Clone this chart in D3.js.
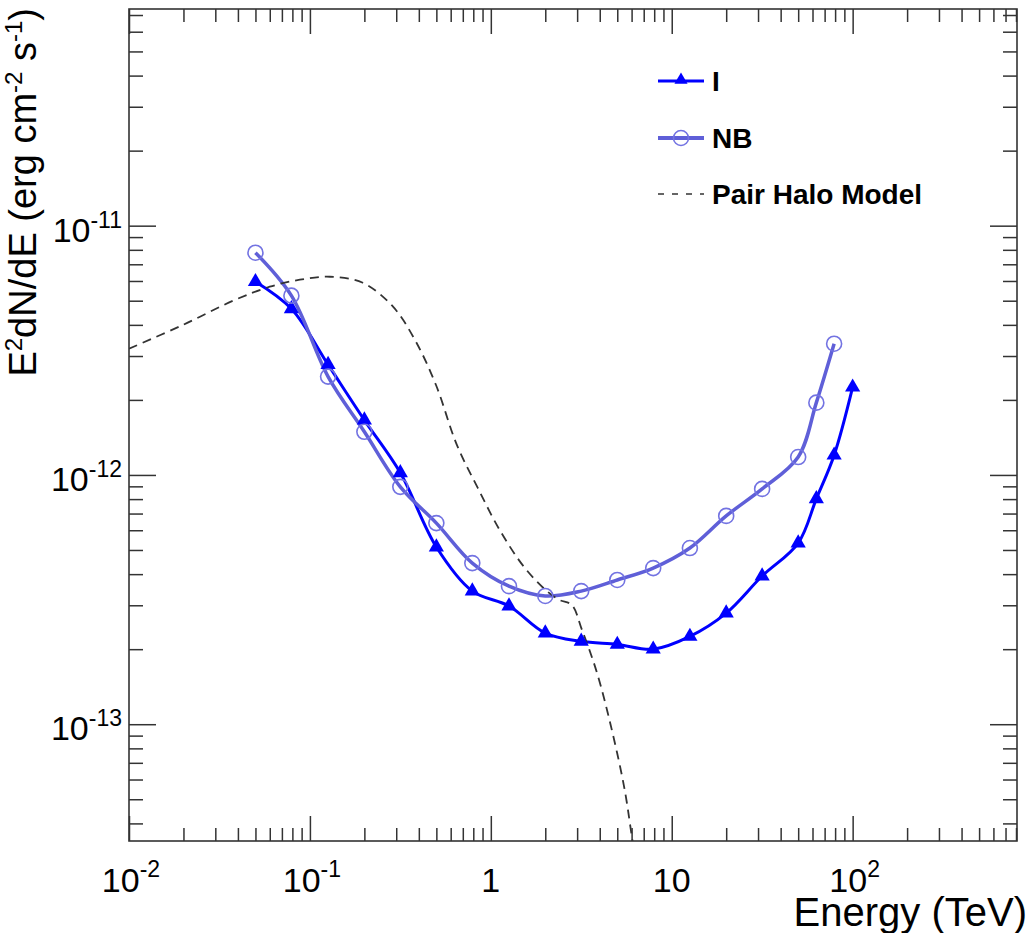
<!DOCTYPE html>
<html>
<head>
<meta charset="utf-8">
<script src="https://cdn.jsdelivr.net/npm/d3@7"></script>
<style>
  body { margin: 0; background: #fff; }
  text { font-family: "Liberation Sans", Arial, Helvetica, sans-serif; fill: #000; }
</style>
</head>
<body>
<div id="chart"></div>
<script>
// energies (TeV) and E^2 dN/dE values (erg cm^-2 s^-1)
var energyI = [0.05, 0.079, 0.126, 0.2, 0.316, 0.5, 0.79, 1.26, 2, 3.16, 5, 7.9, 12.6, 20, 31.6, 50, 63, 79, 100];
var fluxI = [5.96e-12, 4.64e-12, 2.77e-12, 1.66e-12, 1.02e-12, 5.14e-13, 3.42e-13, 2.98e-13, 2.32e-13, 2.15e-13,
             2.09e-13, 2.0e-13, 2.25e-13, 2.79e-13, 3.93e-13, 5.33e-13, 8.02e-13, 1.20e-12, 2.25e-12];

var energyNB = [0.05, 0.079, 0.126, 0.2, 0.316, 0.5, 0.79, 1.26, 2, 3.16, 5, 7.9, 12.6, 20, 31.6, 50, 63, 79];
var fluxNB = [7.79e-12, 5.24e-12, 2.48e-12, 1.49e-12, 8.96e-13, 6.41e-13, 4.43e-13, 3.58e-13, 3.27e-13, 3.42e-13,
              3.79e-13, 4.23e-13, 5.09e-13, 6.85e-13, 8.79e-13, 1.18e-12, 1.95e-12, 3.36e-12];

var energyHalo = [0.01, 0.0199, 0.0386, 0.060, 0.088, 0.129, 0.196, 0.288, 0.380, 0.497, 0.649, 0.847, 1.12,
                  1.54, 2.07, 2.40, 2.80, 3.19, 3.85, 4.67, 5.50, 6.09, 6.5];
var fluxHalo = [3.21e-12, 4.00e-12, 5.04e-12, 5.69e-12, 6.07e-12, 6.24e-12, 5.90e-12, 4.73e-12, 3.49e-12, 2.30e-12,
                1.32e-12, 8.87e-13, 6.01e-13, 4.24e-13, 3.39e-13, 3.15e-13, 3.01e-13, 2.39e-13, 1.62e-13, 9.46e-14,
                5.43e-14, 3.36e-14, 2.6e-14];

var xMajor = [0.01, 0.1, 1, 10, 100];
var xTickBase = ["10", "10", "1", "10", "10"];
var xTickExp = ["-2", "-1", "", "", "2"];
var yMajor = [1e-13, 1e-12, 1e-11];
var yTickBase = ["10", "10", "10"];
var yTickExp = ["-13", "-12", "-11"];

var legendNames = ["I", "NB", "Pair Halo Model"];

var svgWidth = 1031;
var svgHeight = 933;

var plot = { left: 129, right: 1017, top: 9, bottom: 841 };

var svg = d3.select("#chart")
  .append("svg")
  .attr("width", svgWidth)
  .attr("height", svgHeight);

var xScale = d3.scaleLog().domain([0.01, 810]).range([plot.left, plot.right]);
var yScale = d3.scaleLog().domain([3.4e-14, 7.4e-11]).range([plot.bottom, plot.top]);

function minorTicks(scale) {
  var dom = scale.domain();
  var out = [];
  var d0 = Math.floor(Math.log10(dom[0])), d1 = Math.ceil(Math.log10(dom[1]));
  for (var d = d0; d <= d1; d++) {
    for (var k = 2; k <= 9; k++) {
      var v = k * Math.pow(10, d);
      if (v > dom[0] && v < dom[1]) out.push(v);
    }
  }
  return out;
}

var tickColor = "#333";

// ticks on all four sides, pointing inward
function drawTicks(axisFn, scale, values, size, transform) {
  var g = svg.append("g")
    .attr("transform", transform)
    .call(axisFn(scale).tickValues(values).tickSizeInner(size).tickSizeOuter(0).tickFormat(""));
  g.select(".domain").remove();
  g.selectAll("line").attr("stroke", tickColor).attr("stroke-width", 1.5);
}

var xMinor = minorTicks(xScale);
var yMinor = minorTicks(yScale);

drawTicks(d3.axisBottom, xScale, xMajor, -25, "translate(0," + plot.bottom + ")");
drawTicks(d3.axisBottom, xScale, xMinor, -13, "translate(0," + plot.bottom + ")");
drawTicks(d3.axisTop, xScale, xMajor, -25, "translate(0," + plot.top + ")");
drawTicks(d3.axisTop, xScale, xMinor, -13, "translate(0," + plot.top + ")");
drawTicks(d3.axisLeft, yScale, yMajor, -27, "translate(" + plot.left + ",0)");
drawTicks(d3.axisLeft, yScale, yMinor, -14, "translate(" + plot.left + ",0)");
drawTicks(d3.axisRight, yScale, yMajor, -27, "translate(" + plot.right + ",0)");
drawTicks(d3.axisRight, yScale, yMinor, -14, "translate(" + plot.right + ",0)");

// frame
svg.append("rect")
  .attr("x", plot.left)
  .attr("y", plot.top)
  .attr("width", plot.right - plot.left)
  .attr("height", plot.bottom - plot.top)
  .attr("fill", "none")
  .attr("stroke", tickColor)
  .attr("stroke-width", 1.6);

// tick labels
xMajor.forEach(function (v, i) {
  var t = svg.append("text")
    .attr("x", xScale(v) + (xTickExp[i] ? 2 : 0))
    .attr("y", 892)
    .attr("text-anchor", "middle")
    .style("font-size", "34px");
  t.append("tspan").text(xTickBase[i]);
  if (xTickExp[i]) {
    t.append("tspan").attr("dy", -15).style("font-size", "23px").text(xTickExp[i]);
  }
});

yMajor.forEach(function (v, i) {
  var t = svg.append("text")
    .attr("x", 122)
    .attr("y", yScale(v) + 16)
    .attr("text-anchor", "end")
    .style("font-size", "34px");
  t.append("tspan").text(yTickBase[i]);
  t.append("tspan").attr("dy", -14).style("font-size", "23px").text(yTickExp[i]);
});

// axis titles
svg.append("text")
  .attr("x", 1027)
  .attr("y", 926)
  .attr("text-anchor", "end")
  .style("font-size", "40px")
  .text("Energy (TeV)");

var yTitle = svg.append("text")
  .attr("transform", "translate(36,8) rotate(-90)")
  .attr("text-anchor", "end")
  .style("font-size", "38px");
yTitle.append("tspan").text("E");
yTitle.append("tspan").attr("dy", -14).style("font-size", "24px").text("2");
yTitle.append("tspan").attr("dy", 14).text("dN/dE (erg cm");
yTitle.append("tspan").attr("dy", -14).style("font-size", "24px").text("-2");
yTitle.append("tspan").attr("dy", 14).text(" s");
yTitle.append("tspan").attr("dy", -14).style("font-size", "24px").text("-1");
yTitle.append("tspan").attr("dy", 14).text(")");

// clip for curves
svg.append("clipPath").attr("id", "plotclip")
  .append("rect")
  .attr("x", plot.left).attr("y", plot.top)
  .attr("width", plot.right - plot.left).attr("height", plot.bottom - plot.top);

var line = d3.line()
  .x(function (d) { return xScale(d[0]); })
  .y(function (d) { return yScale(d[1]); })
  .curve(d3.curveCatmullRom.alpha(0.5));

var colorI = "#0000ff";
var colorNB = "#5f5fd8";
var colorNBMarker = "#7373e2";

var dataI = d3.zip(energyI, fluxI);
var dataNB = d3.zip(energyNB, fluxNB);
var dataHalo = d3.zip(energyHalo, fluxHalo);

var curves = svg.append("g").attr("clip-path", "url(#plotclip)");

curves.append("path")
  .datum(dataI)
  .attr("d", line)
  .attr("fill", "none")
  .attr("stroke", colorI)
  .attr("stroke-width", 3);

curves.append("path")
  .datum(dataNB)
  .attr("d", line)
  .attr("fill", "none")
  .attr("stroke", colorNB)
  .attr("stroke-width", 3.5);

curves.append("path")
  .datum(dataHalo)
  .attr("d", line)
  .attr("fill", "none")
  .attr("stroke", "#333")
  .attr("stroke-width", 1.8)
  .attr("stroke-dasharray", "9,6");

var triangle = d3.symbol().type(d3.symbolTriangle).size(100);

svg.append("g").selectAll("path")
  .data(dataI)
  .enter()
  .append("path")
  .attr("d", triangle)
  .attr("transform", function (d) { return "translate(" + xScale(d[0]) + "," + yScale(d[1]) + ")"; })
  .attr("fill", colorI);

svg.append("g").selectAll("circle")
  .data(dataNB)
  .enter()
  .append("circle")
  .attr("cx", function (d) { return xScale(d[0]); })
  .attr("cy", function (d) { return yScale(d[1]); })
  .attr("r", 7.5)
  .attr("fill", "none")
  .attr("stroke", colorNBMarker)
  .attr("stroke-width", 1.6);

// legend
var legend = svg.append("g");
var legendRows = [81, 138, 194];
var legendTriangle = d3.symbol().type(d3.symbolTriangle).size(75);

legend.append("line")
  .attr("x1", 658).attr("x2", 704).attr("y1", legendRows[0]).attr("y2", legendRows[0])
  .attr("stroke", colorI).attr("stroke-width", 3);
legend.append("path")
  .attr("d", legendTriangle)
  .attr("transform", "translate(681," + (legendRows[0] - 1) + ")")
  .attr("fill", colorI);

legend.append("line")
  .attr("x1", 658).attr("x2", 704).attr("y1", legendRows[1]).attr("y2", legendRows[1])
  .attr("stroke", colorNB).attr("stroke-width", 4);
legend.append("circle")
  .attr("cx", 681).attr("cy", legendRows[1]).attr("r", 7.5)
  .attr("fill", "none").attr("stroke", colorNBMarker).attr("stroke-width", 1.6);

legend.append("line")
  .attr("x1", 658).attr("x2", 704).attr("y1", legendRows[2]).attr("y2", legendRows[2])
  .attr("stroke", "#333").attr("stroke-width", 1.5).attr("stroke-dasharray", "6,8");

legend.selectAll("text")
  .data(legendNames)
  .enter()
  .append("text")
  .attr("x", 712)
  .attr("y", function (d, i) { return legendRows[i] + 10; })
  .style("font-size", "28px")
  .style("font-weight", "bold")
  .text(function (d) { return d; });
</script>
</body>
</html>
